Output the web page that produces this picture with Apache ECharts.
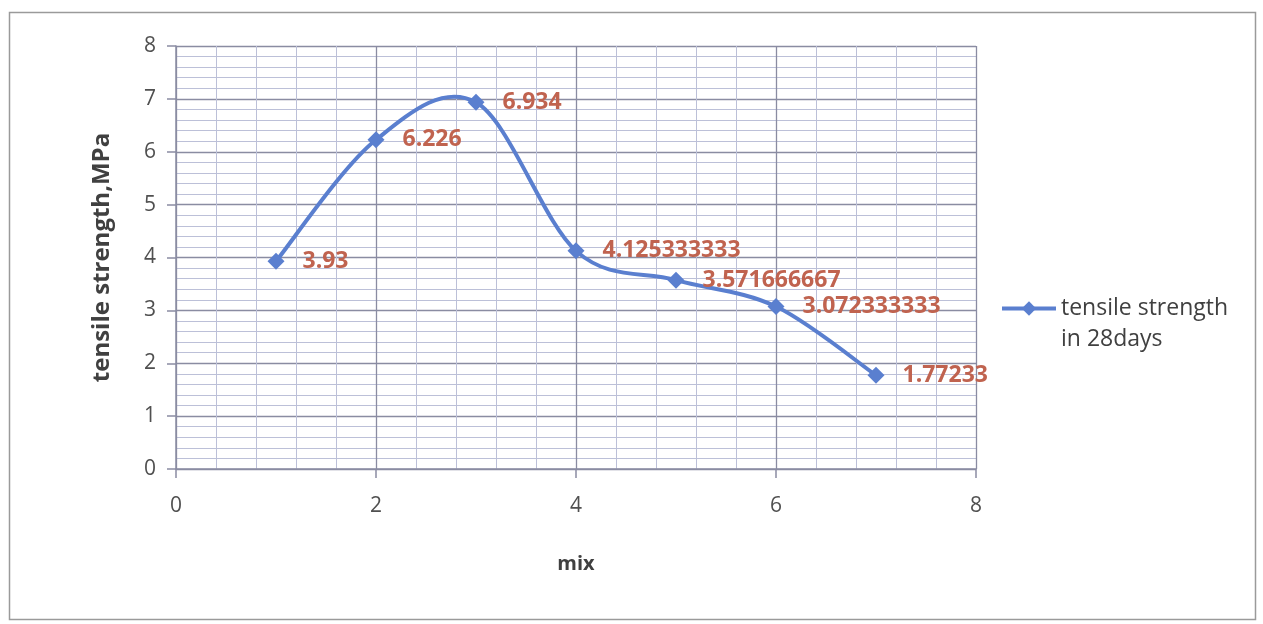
<!DOCTYPE html>
<html>
<head>
<meta charset="utf-8">
<script src="https://cdn.jsdelivr.net/npm/echarts@6/dist/echarts.min.js"></script>
<style>
  html, body { margin: 0; padding: 0; background: #ffffff; }
  #chart { width: 1263px; height: 624px; }
</style>
</head>
<body>
<div id="chart"></div>
<script>
// Mix number and 28-day tensile strength (MPa)
const mixes = [1, 2, 3, 4, 5, 6, 7];
const tensile28 = [3.93, 6.226, 6.934, 4.125333333, 3.571666667, 3.072333333, 1.77233];
const seriesName = 'tensile strength\nin 28days';

const points = mixes.map((m, i) => [m, tensile28[i]]);
const n = points.length;

const FONT = '"Open Sans", "Liberation Sans", sans-serif';
const MAJOR = '#8a8ca2';
const MINOR = '#bcc0d8';
const LINE = '#5a7fcf';

// Catmull-Rom style tangent (in data units) for the smoothed curve through the points
function tangent(i) {
  const prev = points[Math.max(i - 1, 0)];
  const next = points[Math.min(i + 1, n - 1)];
  return [(next[0] - prev[0]) / 6, (next[1] - prev[1]) / 6];
}

function renderSegment(params, api) {
  const i = params.dataIndex;
  if (i >= n - 1) return { type: 'group', children: [] };
  const p1 = points[i], p2 = points[i + 1];
  const d1 = tangent(i), d2 = tangent(i + 1);
  const a = api.coord(p1);
  const b = api.coord(p2);
  const c1 = api.coord([p1[0] + d1[0], p1[1] + d1[1]]);
  const c2 = api.coord([p2[0] - d2[0], p2[1] - d2[1]]);
  return {
    type: 'bezierCurve',
    shape: { x1: a[0], y1: a[1], x2: b[0], y2: b[1], cpx1: c1[0], cpy1: c1[1], cpx2: c2[0], cpy2: c2[1] },
    style: { stroke: LINE, lineWidth: 4, fill: null, lineCap: 'round' },
    silent: true
  };
}

const chart = echarts.init(document.getElementById('chart'));
chart.setOption({
  backgroundColor: '#ffffff',
  animation: false,
  textStyle: { fontFamily: FONT },
  graphic: [{
    type: 'rect',
    shape: { x: 9.5, y: 12.5, width: 1246, height: 607 },
    style: { fill: 'none', stroke: '#9a9a9a', lineWidth: 1.5 },
    silent: true
  }],
  grid: { left: 176, right: 287, top: 46, bottom: 155 },
  legend: {
    data: [seriesName],
    left: 995,
    top: 257,
    itemWidth: 54,
    itemHeight: 18,
    lineStyle: { color: LINE, width: 4, opacity: 1 },
    itemStyle: { color: LINE },
    // leading blank line keeps the marker level with the first text line
    formatter: name => '\n' + name,
    textStyle: {
      fontFamily: FONT,
      fontSize: 23,
      color: '#404040',
      lineHeight: 31
    }
  },
  xAxis: {
    type: 'value',
    min: 0,
    max: 8,
    interval: 2,
    name: 'mix',
    nameLocation: 'middle',
    nameGap: 85,
    nameTextStyle: { fontFamily: FONT, fontSize: 20, fontWeight: 'bold', color: '#404040' },
    axisLine: { show: true, lineStyle: { color: MAJOR, width: 1.5 } },
    axisTick: { show: true, inside: false, length: 9, lineStyle: { color: MAJOR, width: 1.5 } },
    axisLabel: { margin: 27, fontFamily: FONT, fontSize: 21, color: '#505050' },
    splitLine: { show: true, lineStyle: { color: MAJOR, width: 1.3 } },
    minorTick: { show: false, splitNumber: 5 },
    minorSplitLine: { show: true, lineStyle: { color: MINOR, width: 1 } }
  },
  yAxis: {
    type: 'value',
    min: 0,
    max: 8,
    interval: 1,
    name: 'tensile strength,MPa',
    nameLocation: 'middle',
    nameGap: 62,
    nameTextStyle: { fontFamily: FONT, fontSize: 24, fontWeight: 'bold', color: '#404040' },
    axisLine: { show: true, lineStyle: { color: MAJOR, width: 1.5 } },
    axisTick: { show: true, inside: false, length: 9, lineStyle: { color: MAJOR, width: 1.5 } },
    axisLabel: { margin: 20, fontFamily: FONT, fontSize: 21, color: '#505050' },
    splitLine: { show: true, lineStyle: { color: MAJOR, width: 1.3 } },
    minorTick: { show: false, splitNumber: 5 },
    minorSplitLine: { show: true, lineStyle: { color: MINOR, width: 1 } }
  },
  series: [
    {
      // smoothed curve through the measured points
      type: 'custom',
      data: points,
      encode: { x: 0, y: 1 },
      renderItem: renderSegment,
      z: 2,
      silent: true
    },
    {
      name: seriesName,
      type: 'line',
      data: points,
      z: 3,
      symbol: 'diamond',
      symbolSize: 17,
      itemStyle: { color: LINE },
      lineStyle: { color: LINE, width: 4, opacity: 0 },
      label: {
        show: true,
        position: 'right',
        distance: 18,
        fontFamily: FONT,
        fontSize: 23,
        fontWeight: 'bold',
        color: '#c0634f',
        formatter: p => String(p.value[1])
      }
    }
  ]
});
</script>
</body>
</html>
